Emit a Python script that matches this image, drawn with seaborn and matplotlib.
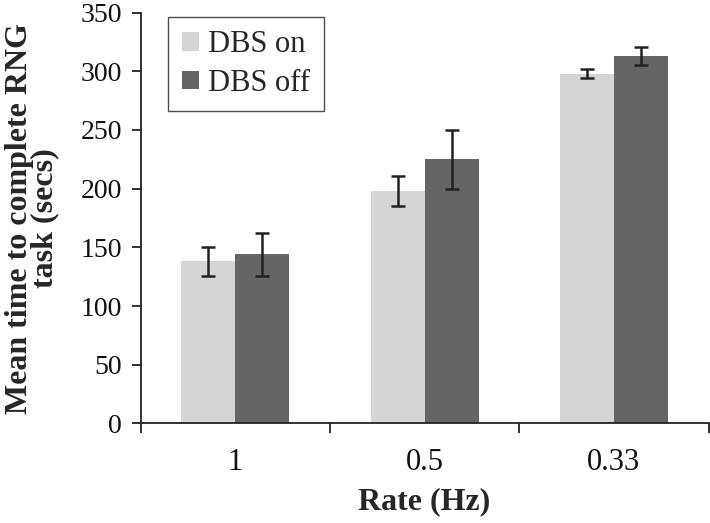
import matplotlib
matplotlib.use("Agg")
import matplotlib.pyplot as plt
import seaborn as sns
import pandas as pd
import numpy as np

sns.set_theme(style="white")
plt.rcParams["font.family"] = ["Liberation Serif", "DejaVu Serif"]

# Data
rates = ["1", "0.5", "0.33"]
dbs_on = [138, 198, 298]
dbs_off = [144, 225, 313]
err_on = [12, 13, 3.5]
err_off = [18.5, 25, 7.5]
conditions = ["DBS on", "DBS off"]

df = pd.DataFrame({
    "Rate": rates * 2,
    "Condition": [conditions[0]] * 3 + [conditions[1]] * 3,
    "Time": dbs_on + dbs_off,
    "Err": err_on + err_off,
})

fig = plt.figure(figsize=(7.1, 5.23), dpi=100)
ax = fig.add_axes([0.198, 0.1903, 0.800, 0.7857])

palette = {"DBS on": "#d4d5d7", "DBS off": "#646567"}
sns.barplot(data=df, x="Rate", y="Time", hue="Condition", order=rates,
            hue_order=conditions, palette=palette, width=0.57,
            errorbar=None, saturation=1, ax=ax, edgecolor="none")

# error bars at bar centres
for cont, cond in zip(ax.containers, conditions):
    sub = df[df["Condition"] == cond].set_index("Rate").loc[rates]
    xs = [p.get_x() + p.get_width() / 2 for p in cont.patches]
    ax.errorbar(xs, sub["Time"].values, yerr=sub["Err"].values, fmt="none",
                ecolor="#222222", elinewidth=1.8, capsize=5, capthick=1.8)

ax.set_ylim(0, 350)
ax.set_yticks(np.arange(0, 351, 50))
ax.set_xlim(-0.5, 2.5)
ax.set_xticks([-0.5, 0.5, 1.5, 2.5], minor=True)
ax.tick_params(axis="both", which="both", bottom=True, left=True)
ax.tick_params(axis="x", which="major", length=0, pad=18, labelsize=22)
ax.tick_params(axis="x", which="minor", length=7, width=1.3, direction="out", color="#222222")
ax.tick_params(axis="y", length=6.5, width=1.3, direction="out", labelsize=20,
               color="#222222", pad=7)
ax.tick_params(labelcolor="#111111", which="both")

for s in ["top", "right"]:
    ax.spines[s].set_visible(False)
for s in ["left", "bottom"]:
    ax.spines[s].set_color("#222222")
    ax.spines[s].set_linewidth(1.3)

ax.set_xlabel("Rate (Hz)", fontsize=23, fontweight="bold", labelpad=7)
ax.set_ylabel("Mean time to complete RNG\ntask (secs)", fontsize=23,
              fontweight="bold", labelpad=15, linespacing=0.85)

leg = ax.legend(loc="upper left", bbox_to_anchor=(0.049, 0.99), fontsize=22,
                frameon=True, fancybox=False, edgecolor="#222222",
                handlelength=0.55, handleheight=0.55, handletextpad=0.3,
                borderpad=0.45, labelspacing=0.3, borderaxespad=0)
leg.get_frame().set_linewidth(1.0)

fig.savefig("out.png", dpi=100)
